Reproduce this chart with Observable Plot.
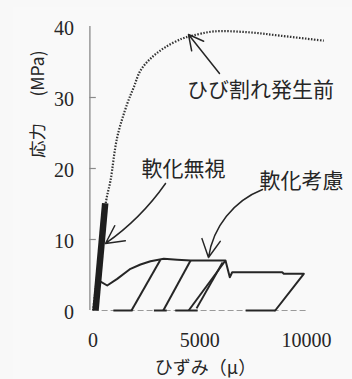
<!DOCTYPE html>
<html><head><meta charset="utf-8">
<script src="https://cdn.jsdelivr.net/npm/d3@7"></script>
<script src="https://cdn.jsdelivr.net/npm/@observablehq/plot@0.6"></script>
<style>
body{margin:0;background:#f9f9f9;}
#chart svg{display:block;background:#ececec;box-shadow:inset 13px 7px 0 #f8f8f8;}
</style></head><body><div id="chart"></div>
<script>
// ひび割れ発生前 (dotted)
const precrackStrain = [0, 300, 614, 816, 1130, 1598, 1908, 2222, 2770, 3394, 4177, 4645, 5644, 7223, 8784, 10814];
const precrackStress = [0, 7.6, 15.5, 18.3, 24.4, 29.1, 31.45, 33.8, 35.7, 37.1, 38.3, 38.7, 39.3, 39.2, 38.7, 38.0];
// 軟化無視 (thick)
const ignoreStrain = [113, 567];
const ignoreStress = [0, 15.1];
// 軟化考慮 envelope
const softStrain = [330, 661, 1130, 1753, 2222, 2691, 3314, 3942, 4566, 6206, 6408, 6520, 8864, 8939, 9877, 8536];
const softStress = [4.1, 3.52, 4.46, 5.87, 6.48, 6.94, 7.28, 7.14, 7.04, 7.04, 4.69, 5.39, 5.39, 5.17, 5.17, 0];
// unloading / reloading branches
const loopStartStrain = [3150, 4570, 4480, 4850, 950, 2850, 3850, 7150];
const loopStartStress = [7.1, 7.05, 0, 0.3, 0, 0, 0, 0];
const loopEndStrain = [1800, 3290, 6206, 6070, 1850, 3450, 4900, 8540];
const loopEndStress = [0, 0, 7.04, 6.76, 0, 0, 0, 0];
// axes
const xTicks = [0, 5000, 10000];
const yTicks = [0, 10, 20, 30, 40];
const yMinorTicks = [10, 20, 30];
const xLabel = "ひずみ（μ）";
const yLabelParts = ["応力", "(MPa)"];
const yLabelX = [-2560, -2560];
const yLabelY = [23.94, 33.38];
// annotations
const noteText = ["ひび割れ発生前", "軟化無視", "軟化考慮"];
const noteX = [7847, 4237, 9769];
const noteY = [31.0, 19.86, 18.17];
const arrowX1 = [5925, 3394, 7941];
const arrowY1 = [33.38, 17.89, 17.04];
const arrowX2 = [4472, 581, 5409];
const arrowY2 = [38.87, 9.44, 7.46];
const arrowBend = [0, 10, -30];

const zip = (xs, ys) => xs.map((x, i) => ({x, y: ys[i]}));
const precrack = zip(precrackStrain, precrackStress);
const ignore = zip(ignoreStrain, ignoreStress);
const soft = zip(softStrain, softStress);
const loops = loopStartStrain.map((x, i) => ({x1: x, y1: loopStartStress[i], x2: loopEndStrain[i], y2: loopEndStress[i]}));
const notes = noteText.map((t, i) => ({t, x: noteX[i], y: noteY[i]}));
const yLab = yLabelParts.map((t, i) => ({t, x: yLabelX[i], y: yLabelY[i]}));

const ink = "#262626";
const serif = "Liberation Serif";
const jp = "Noto Sans CJK JP";

const arrowMarks = arrowX1.map((x, i) => Plot.arrow([{x1: x, y1: arrowY1[i], x2: arrowX2[i], y2: arrowY2[i]}], {
  x1: "x1", y1: "y1", x2: "x2", y2: "y2", bend: arrowBend[i],
  stroke: ink, strokeWidth: 1.5, headLength: 20, headAngle: 55
}));

const chart = Plot.plot({
  width: 352, height: 379,
  marginLeft: 92.6, marginRight: 3.4, marginTop: 4.7, marginBottom: 69,
  style: {background: "transparent", overflow: "visible"},
  x: {domain: [0, 12000], axis: null},
  y: {domain: [0, 43], axis: null},
  marks: [
    // axis lines
    Plot.ruleY([0], {x1: 0, x2: 10000, stroke: "#9a9a9a", strokeWidth: 1.2, strokeDasharray: "6 3"}),
    Plot.ruleX([-150], {y1: 0, y2: 40, stroke: "#8a8a8a", strokeWidth: 1.3}),
    Plot.ruleY(yMinorTicks, {x1: -150, x2: 150, stroke: "#8a8a8a", strokeWidth: 1.2}),
    // tick labels
    Plot.text(yTicks, {x: 0, y: d => d, text: d => String(d), dx: -19, dy: 2.5, textAnchor: "end", fontSize: 20, fontFamily: serif, fill: ink}),
    Plot.text(xTicks, {x: d => d, y: 0, text: d => String(d), dy: 30, fontSize: 20, fontFamily: serif, fill: ink}),
    // curves
    Plot.line(precrack, {x: "x", y: "y", curve: "catmull-rom", stroke: "#333", strokeWidth: 2.2, strokeDasharray: "1.5 1.5", strokeLinecap: "butt"}),
    Plot.link(loops, {x1: "x1", y1: "y1", x2: "x2", y2: "y2", stroke: ink, strokeWidth: 2}),
    Plot.line(soft, {x: "x", y: "y", curve: "linear", stroke: ink, strokeWidth: 2, strokeLinejoin: "round"}),
    Plot.line(ignore, {x: "x", y: "y", stroke: "#1e1e1e", strokeWidth: 6.5, strokeLinecap: "butt"}),
    // annotations
    ...arrowMarks,
    Plot.text(notes, {x: "x", y: "y", text: "t", fontSize: 21, fontFamily: jp, fill: ink}),
    Plot.text([xLabel], {x: 5269, y: -8.17, fontSize: 18, fontFamily: jp, fill: ink}),
    Plot.text(yLab, {x: "x", y: "y", text: "t", rotate: -90, fontSize: 17.5, fontFamily: jp, fill: ink})
  ]
});
document.getElementById("chart").appendChild(chart);
</script></body></html>
